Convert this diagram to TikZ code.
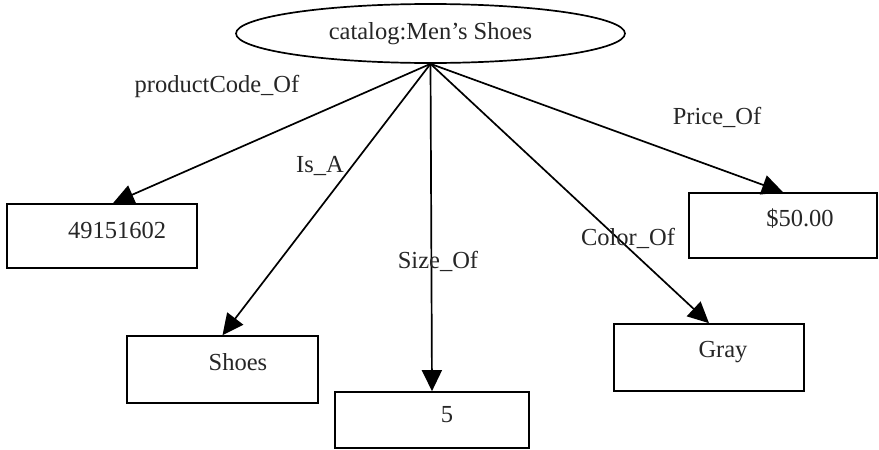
\documentclass[tikz,border=0pt]{standalone}
\usepackage{fontspec}
\setmainfont{Liberation Serif}
\usetikzlibrary{arrows.meta,shapes.geometric,calc}
\begin{document}
\begin{tikzpicture}[x=1pt,y=-1pt,
  every node/.style={font=\fontsize{24.5}{28}\selectfont, text=black!85},
  valbox/.style={draw, line width=1.7pt, rectangle, inner sep=0pt},
  conn/.style={line width=1.7pt, -{Triangle[length=21pt,width=20pt]}},
  elabel/.style={inner sep=0pt}]
\useasboundingbox (0,0) rectangle (879,450);
\node[ellipse, draw, line width=1.7pt, minimum width=389pt, minimum height=59pt, inner sep=0pt] (cat) at (430.5,33.5) {};
\node[inner sep=0pt] (cattext) at (430.5,33.5) {catalog:Men’s Shoes};

\node[valbox, minimum width=190pt, minimum height=64pt] (b1) at (102,236) {};
\node[valbox, minimum width=191pt, minimum height=67pt] (b2) at (222.5,369.5) {};
\node[valbox, minimum width=194pt, minimum height=56pt] (b3) at (432,420) {};
\node[valbox, minimum width=190pt, minimum height=67pt] (b4) at (709,357.5) {};
\node[valbox, minimum width=188pt, minimum height=65pt] (b5) at (783,225.5) {};

\node[inner sep=0pt] (t1) at (117,230) {49151602};
\node[inner sep=0pt] (t2) at (238,362) {Shoes};
\node[inner sep=0pt] (t3) at (447,415) {5};
\node[inner sep=0pt] (t4) at (723,352) {Gray};
\node[inner sep=0pt] (t5) at (800,219) {\$50.00};

\draw[conn] (cat.south) -- ([xshift=11pt]b1.north);
\draw[conn] (cat.south) -- (b2.north);
\draw[conn] (cat.south) -- (b3.north);
\draw[conn] (cat.south) -- (b4.north);
\draw[conn] (cat.south) -- (b5.north);

\node[elabel] (l1) at (217,86) {productCode\_Of};
\node[elabel] (l2) at (320,166) {Is\_A};
\node[elabel] (l3) at (438,261) {Size\_Of};
\node[elabel] (l4) at (628,238) {Color\_Of};
\node[elabel] (l5) at (717,117) {Price\_Of};
\end{tikzpicture}
\end{document}
